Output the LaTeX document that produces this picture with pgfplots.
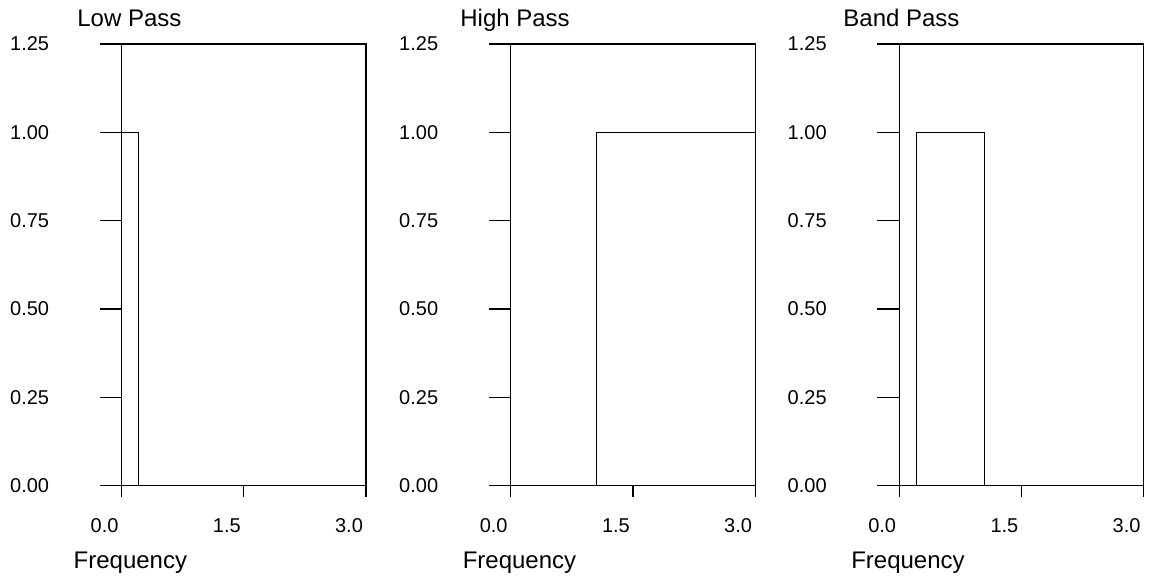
\documentclass[border=0pt]{standalone}
\usepackage{fontspec}
\setmainfont{Liberation Sans}
\usepackage{pgfplots}
\pgfplotsset{compat=1.18}

% cut-off shapes of the three ideal filters
\pgfplotstableread{
f g
0 1
0.21 1
0.21 0
3 0
}\lowpass
\pgfplotstableread{
f g
0 0
1.05 0
1.05 1
3 1
}\highpass
\pgfplotstableread{
f g
0 0
0.21 0
0.21 1
1.05 1
1.05 0
3 0
}\bandpass

\pgfplotsset{
  filt/.style={
    scale only axis, width=122.2pt, height=220.85pt,
    anchor=south west,
    xmin=0, xmax=3, ymin=0, ymax=1.25,
    xtick={0,1.5,3}, xticklabels={0.0,1.5,3.0},
    ytick={0,0.25,0.5,0.75,1,1.25},
    yticklabels={0.00,0.25,0.50,0.75,1.00,1.25},
    xtick pos=bottom, ytick pos=left, tick align=outside,
    xtick style={/pgfplots/major tick length=5.5pt},
    ytick style={/pgfplots/major tick length=11pt},
    every tick/.append style={black, line width=0.6pt},
    axis line style={line width=0.6pt},
    ticklabel style={font=\fontsize{10}{12}\selectfont, inner sep=0pt},
    xticklabel style={anchor=base, xshift=-8.5pt, yshift=-19pt},
    yticklabel style={anchor=east, xshift=-31.8pt},
    xlabel={Frequency},
    every axis x label/.style={at={(axis description cs:0,0)}, anchor=base west,
      inner sep=0pt, xshift=-24.15pt, yshift=-41.5pt, font=\fontsize{12}{14}\selectfont},
    every axis title/.style={at={(axis description cs:0,1)}, anchor=base west,
      inner sep=0pt, yshift=9pt, font=\fontsize{12}{14}\selectfont},
  },
  filtline/.style={black, line width=0.6pt, no marks},
}

\begin{document}
\begin{tikzpicture}
\path[use as bounding box] (0,0) rectangle (576pt,-289pt);

\begin{axis}[filt, at={(60.8pt,-242.85pt)}, title={Low Pass},
  title style={xshift=-22.3pt}]
  \addplot[filtline] table[x=f, y=g] {\lowpass};
\end{axis}

\begin{axis}[filt, at={(255.35pt,-242.85pt)}, title={High Pass},
  title style={xshift=-25.35pt}]
  \addplot[filtline] table[x=f, y=g] {\highpass};
\end{axis}

\begin{axis}[filt, at={(449.6pt,-242.85pt)}, title={Band Pass},
  title style={xshift=-28.1pt}]
  \addplot[filtline] table[x=f, y=g] {\bandpass};
\end{axis}
\end{tikzpicture}
\end{document}
